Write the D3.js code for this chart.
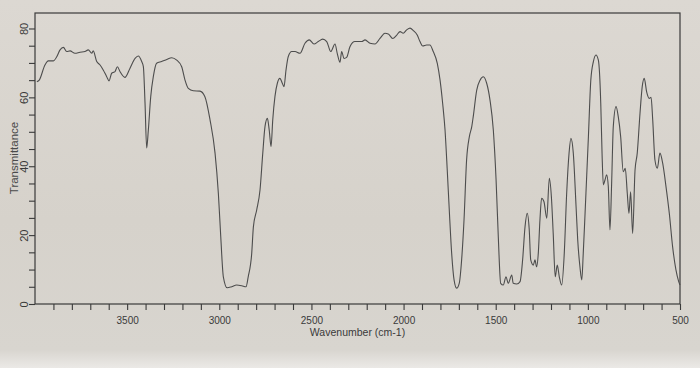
<!DOCTYPE html>
<html>
<head>
<meta charset="utf-8">
<script src="https://cdn.jsdelivr.net/npm/d3@7"></script>
<style>
  html, body { margin: 0; padding: 0; background: #d8d4cd; }
  svg { display: block; }
</style>
</head>
<body>
<svg id="chart" width="700" height="368"></svg>
<script>
// ---- data ----
const wavenumbers = [3990,3977,3946,3928,3901,3882,3864,3846,3828,3810,3783,3756,3729,3711,3692,3684,3665,3647,3629,3611,3598,3584,3566,3553,3539,3512,3485,3457,3440,3421,3412,3403,3394,3385,3372,3358,3340,3313,3285,3258,3231,3204,3186,3168,3141,3105,3078,3050,3023,3005,2992,2978,2957,2933,2906,2878,2855,2843,2824,2815,2797,2779,2764,2752,2739,2729,2719,2710,2698,2685,2671,2658,2649,2638,2626,2607,2589,2562,2535,2512,2486,2463,2439,2417,2395,2372,2360,2345,2336,2323,2309,2291,2264,2227,2209,2182,2155,2128,2101,2083,2059,2037,2019,2002,1983,1965,1947,1926,1911,1896,1875,1857,1839,1817,1802,1788,1775,1763,1752,1739,1726,1712,1698,1685,1672,1658,1643,1630,1622,1603,1585,1567,1549,1531,1513,1498,1486,1473,1459,1444,1432,1413,1405,1386,1368,1354,1341,1329,1318,1310,1296,1287,1278,1269,1260,1251,1238,1223,1209,1198,1188,1177,1166,1155,1142,1128,1115,1102,1092,1079,1064,1055,1043,1033,1025,1016,997,984,970,956,943,930,923,916,907,898,889,880,871,862,847,835,822,808,797,786,777,768,757,744,732,717,705,694,681,667,657,648,636,623,609,594,576,558,540,522,507,500];
const transmittance = [64.5,65.0,69.4,70.6,70.6,71.8,73.8,74.5,73.3,73.5,72.8,73.1,73.3,73.8,72.8,73.5,70.4,69.4,67.9,66.0,64.8,67.0,67.5,68.9,67.5,65.8,68.4,71.3,72.0,70.4,68.9,58.4,45.3,50.5,60.2,66.0,69.9,70.4,71.0,71.5,70.8,68.9,65.0,62.6,61.9,61.8,60.2,53.4,43.8,32.1,19.5,7.9,4.7,5.0,5.5,5.3,5.0,7.9,14.7,22.4,27.3,33.1,43.8,51.5,53.9,50.5,45.7,53.4,60.2,64.1,65.5,64.1,63.1,67.9,71.8,73.3,73.3,72.8,75.7,76.7,75.5,76.2,76.9,76.2,73.3,75.5,72.8,70.2,73.3,71.3,71.6,74.7,76.2,76.2,76.7,75.7,75.5,77.1,78.6,78.4,77.1,78.1,79.1,78.6,79.6,80.1,79.4,78.1,76.2,74.9,75.2,75.2,73.3,69.9,65.0,58.3,50.5,38.9,27.3,14.7,7.0,4.6,6.0,12.8,24.4,41.8,48.6,51.5,54.4,62.1,65.0,66.0,64.1,59.2,50.5,36.0,19.5,6.0,5.5,7.9,6.0,8.4,6.0,5.8,6.5,12.8,22.4,26.3,21.5,12.8,11.3,12.8,10.8,14.7,24.4,30.7,29.7,24.9,36.5,31.2,20.5,7.9,11.3,7.9,5.5,14.7,32.1,43.8,48.1,43.8,28.3,18.6,10.8,7.0,14.7,25.3,48.6,65.0,70.4,72.3,70.8,58.3,43.8,34.6,36.0,37.5,34.1,21.5,35.0,51.5,57.3,54.4,48.6,38.4,39.4,32.1,26.3,32.6,20.5,38.9,43.8,55.4,63.1,65.5,61.6,59.7,60.0,53.4,41.8,39.4,43.8,40.9,34.1,26.3,16.6,9.9,6.5,5.5];
const xTickValues = [3500, 3000, 2500, 2000, 1500, 1000, 500];
const yTickValues = [0, 20, 40, 60, 80];
const xLabel = "Wavenumber (cm-1)";
const yLabel = "Transmittance";

// ---- layout ----
const L = 35, R = 680, T = 13, B = 304;
const svg = d3.select("#chart");
const font = "'Liberation Sans', Arial, sans-serif";
const ink = "#3a3a3a";

// background paper with lighter bottom edge
const defs = svg.append("defs");
const grad = defs.append("linearGradient").attr("id", "paper").attr("x1", 0).attr("y1", 0).attr("x2", 0).attr("y2", 1);
grad.append("stop").attr("offset", "0%").attr("stop-color", "#dcd8d2");
grad.append("stop").attr("offset", "60%").attr("stop-color", "#d6d2cb");
grad.append("stop").attr("offset", "95%").attr("stop-color", "#d8d5cf");
grad.append("stop").attr("offset", "100%").attr("stop-color", "#ebe9e6");
svg.append("rect").attr("width", 700).attr("height", 368).attr("fill", "url(#paper)");

const x = d3.scaleLinear().domain([4000, 500]).range([L, R]);
const y = d3.scaleLinear().domain([0, (B - T) / 3.444]).range([B, T]);

// frame
svg.append("rect")
  .attr("x", L).attr("y", T).attr("width", R - L).attr("height", B - T)
  .attr("fill", "none").attr("stroke", ink).attr("stroke-width", 1.2);

// x axis
const xMinor = d3.range(3900, 499, -100);
const xAxis = d3.axisBottom(x).tickValues(xMinor).tickSize(6)
  .tickFormat(d => xTickValues.includes(d) ? d : "");
const gx = svg.append("g").attr("transform", `translate(0,${B})`).call(xAxis);
gx.select(".domain").remove();
gx.selectAll(".tick line").attr("stroke", ink).attr("stroke-width", 1.1);
gx.selectAll(".tick text").attr("fill", ink).attr("font-family", font).attr("font-size", 10).attr("dy", "1.05em");

// y axis
const yMinor = d3.range(0, 81, 5);
const yAxis = d3.axisLeft(y).tickValues(yMinor).tickSize(6)
  .tickFormat(d => yTickValues.includes(d) ? d : "");
const gy = svg.append("g").attr("transform", `translate(${L},0)`).call(yAxis);
gy.select(".domain").remove();
gy.selectAll(".tick line").attr("stroke", ink).attr("stroke-width", 1.1);
gy.selectAll(".tick text")
  .attr("fill", ink).attr("font-family", font).attr("font-size", 11)
  .attr("x", null).attr("dy", null)
  .attr("text-anchor", "middle")
  .attr("transform", "translate(-11,0) rotate(-90)")
  .attr("dy", "0.35em");

// axis titles
svg.append("text")
  .attr("x", (L + R) / 2 + 0).attr("y", 336)
  .attr("text-anchor", "middle").attr("font-family", font).attr("font-size", 10.5)
  .attr("fill", ink).text(xLabel);
svg.append("text")
  .attr("transform", "translate(18,158) rotate(-90)")
  .attr("text-anchor", "middle").attr("font-family", font).attr("font-size", 11.5)
  .attr("fill", "#4a4a4a").text(yLabel);

// spectrum
const pts = wavenumbers.map((w, i) => [w, transmittance[i]]);
const line = d3.line().x(d => x(d[0])).y(d => y(d[1])).curve(d3.curveMonotoneX);
svg.append("path").datum(pts)
  .attr("d", line).attr("fill", "none")
  .attr("stroke", "#4d4d4d").attr("stroke-width", 1.1).attr("stroke-linejoin", "round");
</script>
</body>
</html>
